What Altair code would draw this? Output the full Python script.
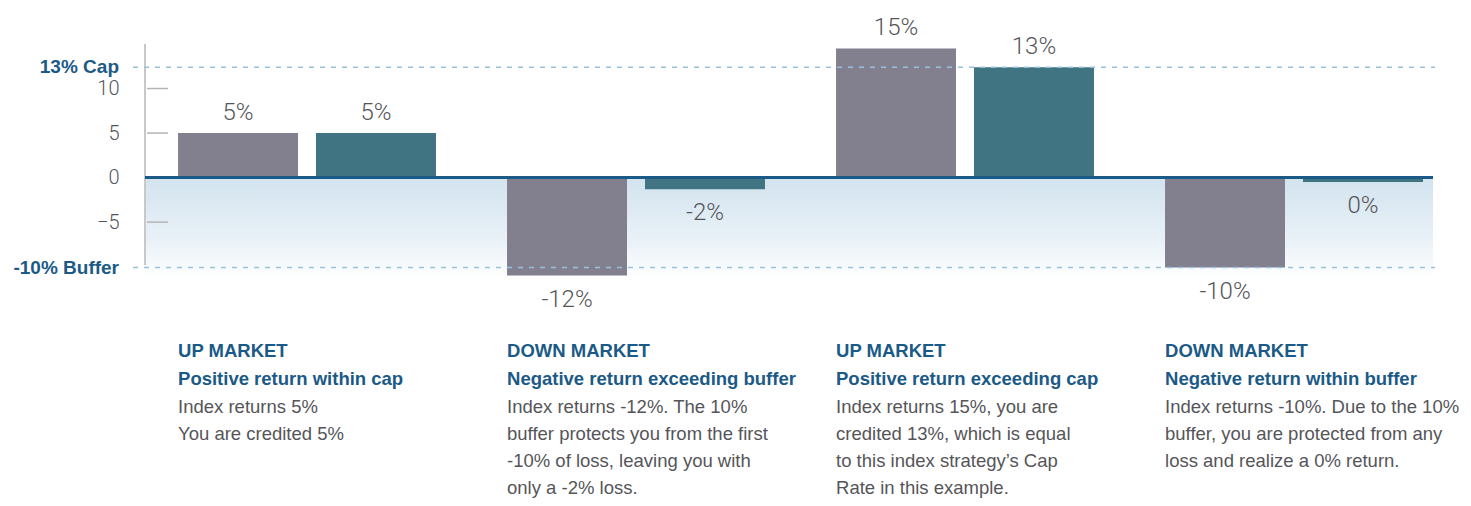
import altair as alt
import pandas as pd

# ---------------- data ----------------
groups = ["Up market, within cap", "Down market, exceeding buffer",
          "Up market, exceeding cap", "Down market, within buffer"]
series = ["Index return", "Credited return"]
# bar lengths as drawn in the picture (percent)
index_drawn = [5.0, -11.0, 14.5, -10.1]
credited_drawn = [5.0, -1.3, 12.4, -0.5]
index_labels = ["5%", "-12%", "15%", "-10%"]
credited_labels = ["5%", "-2%", "13%", "0%"]

headers = ["UP MARKET", "DOWN MARKET", "UP MARKET", "DOWN MARKET"]
subheaders = ["Positive return within cap", "Negative return exceeding buffer",
              "Positive return exceeding cap", "Negative return within buffer"]
bodies = [
    "Index returns 5%\nYou are credited 5%",
    "Index returns -12%. The 10%\nbuffer protects you from the first\n-10% of loss, leaving you with\nonly a -2% loss.",
    "Index returns 15%, you are\ncredited 13%, which is equal\nto this index strategy\u2019s Cap\nRate in this example.",
    "Index returns -10%. Due to the 10%\nbuffer, you are protected from any\nloss and realize a 0% return.",
]

ref_values = [12.4, -10.1]
ref_labels = ["13% Cap", "-10% Buffer"]
y_tick_values = [-5, 0, 5, 10]
inner_ticks = [-5, 5, 10]

# ---------------- tables ----------------
rows = []
for i, g in enumerate(groups):
    rows.append({"group": g, "series": series[0], "value": index_drawn[i], "label": index_labels[i]})
    rows.append({"group": g, "series": series[1], "value": credited_drawn[i], "label": credited_labels[i]})
bars_df = pd.DataFrame(rows)
text_df = pd.DataFrame({"group": groups, "header": headers, "sub": subheaders, "body": bodies})
ref_df = pd.DataFrame({"value": ref_values, "label": ref_labels})
tick_df = pd.DataFrame({"value": inner_ticks})

REG = "'Liberation Sans', Arial, sans-serif"
LIGHT = "Roboto, 'Liberation Sans', sans-serif"
BLUE = "#1b5a87"
GREY_TXT = "#555559"
W, H = 1290, 236

yscale = alt.Scale(domain=[-11.5, 15], nice=False, zero=False)
xscale = alt.Scale(paddingInner=0.216, paddingOuter=0.0685, align=0.733)
X = alt.X("group:N", sort=groups, scale=xscale, axis=None)
XO = alt.XOffset("series:N", sort=series, scale=alt.Scale(paddingInner=0.1304, paddingOuter=0))
Y = alt.Y("value:Q", scale=yscale,
          axis=alt.Axis(values=y_tick_values, title=None, domain=False, grid=False, ticks=False,
                        tickSize=0, labelPadding=26, labelFont=LIGHT, labelFontSize=20,
                        labelFontWeight=300, labelColor=GREY_TXT))

base = alt.Chart(bars_df)

gradient = base.mark_rect(
    fill=alt.Gradient(gradient="linear", x1=0, x2=0, y1=0, y2=1,
                      stops=[alt.GradientStop(color="#d2e3ef", offset=0),
                             alt.GradientStop(color="#e9f1f7", offset=0.6),
                             alt.GradientStop(color="#ffffff", offset=1)])
).encode(x=alt.value(0), x2=alt.value(1288), y=alt.datum(0, scale=yscale), y2=alt.value(H))

axis_line = base.mark_rule(color="#c8c8c8", strokeWidth=2).encode(
    x=alt.value(0), y=alt.value(0), y2=alt.value(221))

ticks = alt.Chart(tick_df).mark_rule(color="#b4b4b4", strokeWidth=1.5).encode(
    x=alt.value(2), x2=alt.value(23), y=alt.Y("value:Q", scale=yscale))

bars = base.mark_bar().encode(
    x=X, xOffset=XO, y=Y,
    color=alt.Color("series:N", sort=series, legend=None,
                    scale=alt.Scale(domain=series, range=["#827f8f", "#417482"])))

zero_line = base.mark_rule(color=BLUE, strokeWidth=3).encode(
    x=alt.value(0), x2=alt.value(1288), y=alt.datum(0, scale=yscale))

dashed = alt.Chart(ref_df).mark_rule(color="#98c2dc", strokeWidth=1.5, strokeDash=[5, 6]).encode(
    x=alt.value(-12), x2=alt.value(1290), y=alt.Y("value:Q", scale=yscale))

ref_text = alt.Chart(ref_df).mark_text(align="right", baseline="middle", font=REG,
                                       fontSize=19, fontWeight="bold", color=BLUE).encode(
    x=alt.value(-26), y=alt.Y("value:Q", scale=yscale), text="label:N")

pos_labels = base.transform_filter("datum.value >= 0").mark_text(
    baseline="alphabetic", dy=-13, font=LIGHT, fontWeight=300, fontSize=24, color=GREY_TXT).encode(
    x=X, xOffset=XO, y=alt.Y("value:Q", scale=yscale), text="label:N")
neg_labels = base.transform_filter("datum.value < 0").mark_text(
    baseline="alphabetic", dy=31, font=LIGHT, fontWeight=300, fontSize=24, color=GREY_TXT).encode(
    x=X, xOffset=XO, y=alt.Y("value:Q", scale=yscale), text="label:N")

XT = alt.X("group:N", sort=groups, scale=xscale, axis=None, bandPosition=0)
tchart = alt.Chart(text_df)
head = tchart.mark_text(align="left", baseline="alphabetic", font=REG, fontSize=18.5,
                        fontWeight="bold", color=BLUE).encode(x=XT, y=alt.value(313), text="header:N")
sub = tchart.mark_text(align="left", baseline="alphabetic", font=REG, fontSize=18.5,
                       fontWeight="bold", color=BLUE).encode(x=XT, y=alt.value(341), text="sub:N")
body = tchart.mark_text(align="left", baseline="alphabetic", font=REG, fontSize=18.5,
                        lineBreak="\n", lineHeight=27, color=GREY_TXT).encode(
    x=XT, y=alt.value(369), text="body:N")

chart = alt.layer(
    gradient, axis_line, ticks, bars, zero_line, dashed, ref_text,
    pos_labels, neg_labels, head, sub, body
).properties(
    width=W, height=H,
    padding={"left": 137, "top": 36, "right": 26, "bottom": 218},
    autosize=alt.AutoSizeParams(type="none"),
    background="white",
).configure_view(strokeWidth=0)

chart.save("out.html", embed_options={"renderer": "svg", "actions": False})
